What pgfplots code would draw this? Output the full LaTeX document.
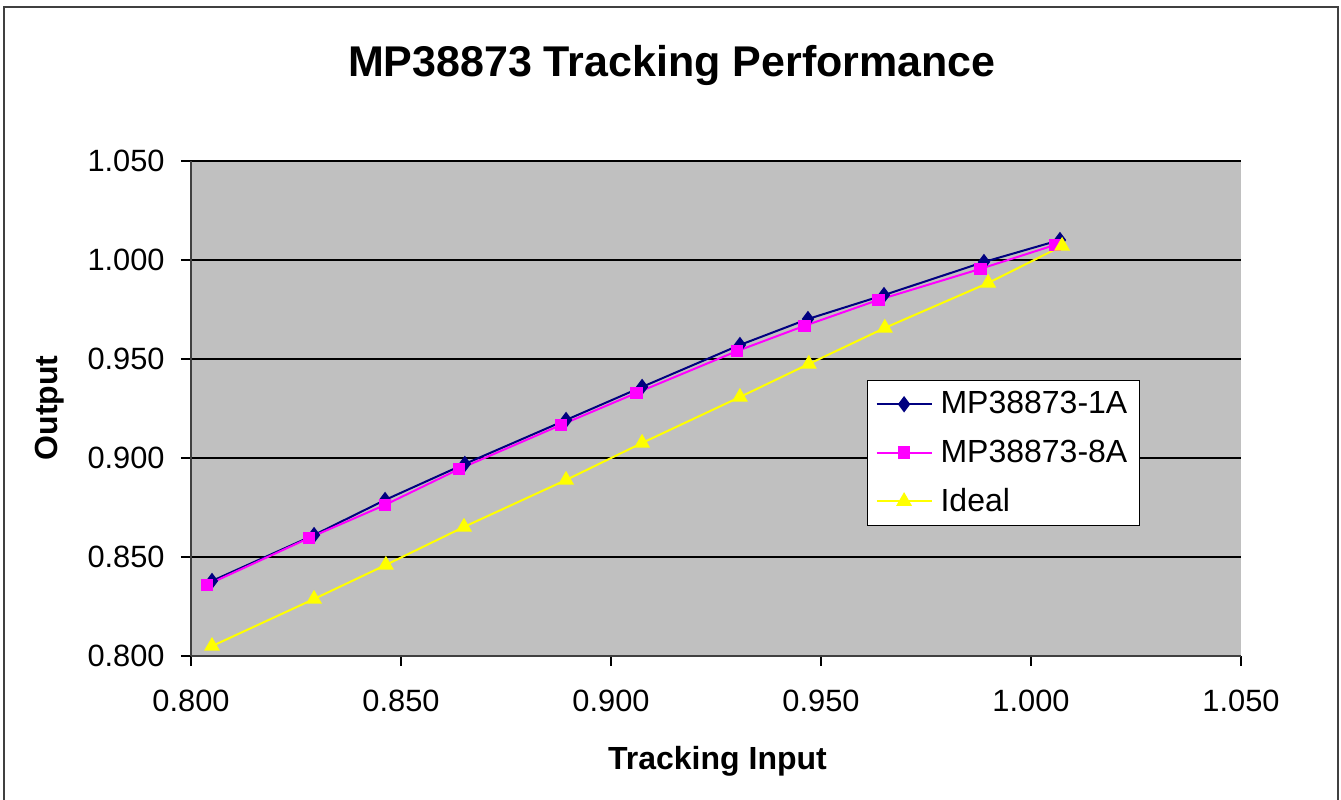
\documentclass[border=0pt]{standalone}
\usepackage{fontspec}
\setmainfont{Liberation Sans}
\usepackage{pgfplots}
\pgfplotsset{compat=1.18}
\definecolor{plotbg}{HTML}{C0C0C0}
\definecolor{navyc}{HTML}{000080}
\definecolor{magc}{HTML}{FF00FF}
\definecolor{yelc}{HTML}{FFFF00}
\definecolor{axgray}{HTML}{404040}
\begin{document}
\begin{tikzpicture}
\begin{axis}[
  scale only axis,
  width=525bp, height=247.5bp,
  xmin=0.8, xmax=1.05, ymin=0.8, ymax=1.05,
  axis x line*=bottom, axis y line*=left,
  axis line style={axgray, line width=1.2bp},
  axis background/.style={fill=plotbg},
  xtick={0.8,0.85,0.9,0.95,1.0,1.05},
  xticklabels={0.800,0.850,0.900,0.950,1.000,1.050},
  ytick={0.8,0.85,0.9,0.95,1.0,1.05},
  yticklabels={0.800,0.850,0.900,0.950,1.000,1.050},
  tick align=outside, major tick length=5bp,
  tick style={black, line width=0.6bp},
  ymajorgrids, major grid style={black, line width=0.6bp},
  ticklabel style={font=\fontsize{15.4bp}{18bp}\selectfont},
  xticklabel style={anchor=base, inner sep=0pt, yshift=-22.5bp},
  yticklabel style={anchor=east, inner sep=0pt, xshift=-8bp},
  /pgf/number format/assume math mode=true,
  title={MP38873 Tracking Performance},
  title style={at={(axis description cs:0.458,1.1465)}, anchor=base, inner sep=0pt, font=\fontsize{21.5bp}{25bp}\selectfont\bfseries},
  xlabel={Tracking Input},
  xlabel style={at={(axis description cs:0.5014,-0.212)}, anchor=center, font=\fontsize{16bp}{19bp}\selectfont\bfseries},
  ylabel={Output},
  ylabel style={at={(axis description cs:-0.1343,0.501)}, anchor=center, font=\fontsize{16bp}{19bp}\selectfont\bfseries},
  legend style={at={(axis description cs:0.6438,0.5576)}, anchor=north west, draw=black, line width=0.6bp, fill=white,
    font=\fontsize{16bp}{19bp}\selectfont, inner xsep=4bp, inner ysep=3.5bp, row sep=7.5bp, column sep=2bp},
  legend cell align=left,
  legend image code/.code={\draw[mark repeat=2,mark phase=2] plot coordinates {(0bp,0bp) (13.75bp,0bp) (27.5bp,0bp)};},
]
\addplot[navyc, line width=1bp, mark=diamond*, mark size=3.3bp, mark options={solid, fill=navyc}] coordinates {
(0.8050,0.8379) (0.8293,0.8611) (0.8462,0.8788) (0.8652,0.8970) (0.8893,0.9192)
(0.9074,0.9359) (0.9307,0.9571) (0.9469,0.9702) (0.9650,0.9823) (0.9888,0.9990) (1.0069,1.0101)};
\addlegendentry{MP38873-1A}
\addplot[magc, line width=1bp, mark=square*, mark size=2.7bp, mark options={solid, fill=magc}] coordinates {
(0.8038,0.8359) (0.8281,0.8596) (0.8462,0.8763) (0.8638,0.8944) (0.8881,0.9167)
(0.9060,0.9328) (0.9300,0.9540) (0.9460,0.9667) (0.9636,0.9798) (0.9879,0.9955) (1.0057,1.0076)};
\addlegendentry{MP38873-8A}
\addplot[yelc, line width=1bp, mark=triangle*, mark size=3.6bp, mark options={solid, fill=yelc}] coordinates {
(0.8050,0.8050) (0.8293,0.8288) (0.8464,0.8460) (0.8650,0.8652) (0.8893,0.8889)
(0.9074,0.9076) (0.9307,0.9308) (0.9471,0.9475) (0.9652,0.9657) (0.9898,0.9884) (1.0074,1.0071)};
\addlegendentry{Ideal}
\end{axis}
\draw[line width=1bp, color=axgray] (-93.25bp,-80bp) -- (-93.25bp,324.5bp) -- (573.5bp,324.5bp) -- (573.5bp,-80bp);
\pgfresetboundingbox
\useasboundingbox (-95.5bp,-72bp) rectangle (575bp,328bp);
\end{tikzpicture}
\end{document}
